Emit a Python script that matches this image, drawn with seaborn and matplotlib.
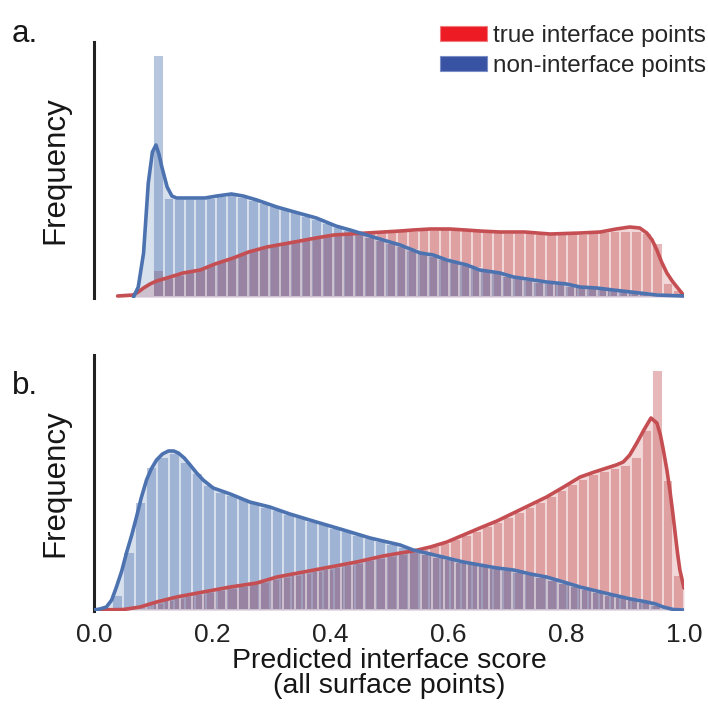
import numpy as np
import pandas as pd
import matplotlib
matplotlib.use("Agg")
import matplotlib.pyplot as plt
import seaborn as sns
from matplotlib.patches import Patch
from matplotlib.colors import to_rgba

# ---------------- data ----------------
score_ticks = [0.0, 0.2, 0.4, 0.6, 0.8, 1.0]
tick_labels = ["0.0", "0.2", "0.4", "0.6", "0.8", "1.0"]
series_names = ["true interface points", "non-interface points"]

# panel a: histogram bin ranges and bar heights (arbitrary frequency units)
a_blue_range = (0.100, 0.995)
a_blue_bars = [242, 99, 98, 98, 98, 99, 101, 102, 100, 97,
               94, 91, 88, 85, 81, 78, 74, 70, 67, 63,
               60, 57, 54, 51, 47, 44, 41, 38, 35, 32,
               29, 26, 24, 21, 19, 17, 15, 14, 13, 11,
               10, 9, 8, 7, 6, 5, 4, 3, 2, 1]
a_red_range = (0.100, 1.000)
a_red_bars = [27, 19, 22, 25, 28, 32, 36, 39, 43, 47,
              49, 51, 53, 55, 57, 59, 61, 62, 63, 63,
              64, 65, 65, 66, 66, 67, 67, 68, 67, 67,
              66, 65, 65, 64, 64, 64, 63, 63, 63, 63,
              63, 64, 65, 66, 66, 66, 64, 54, 14, 7]

# panel a: density curves
a_blue_kde_x = [0.067, 0.075, 0.084, 0.092, 0.099, 0.105, 0.110, 0.115, 0.124, 0.132,
                0.140, 0.163, 0.188, 0.208, 0.233, 0.253, 0.276, 0.310, 0.340, 0.377,
                0.410, 0.434, 0.462, 0.490, 0.519, 0.553, 0.575, 0.598, 0.632, 0.654,
                0.688, 0.711, 0.745, 0.767, 0.801, 0.824, 0.852, 0.880, 0.925, 0.954, 1.000]
a_blue_kde_y = [0, 10, 44, 114, 145, 152, 143, 130, 110, 101,
                99, 99, 99, 101, 103, 101, 97, 90, 85, 79,
                71, 67, 62, 57, 52, 44, 42, 37, 32, 27,
                24, 20, 17, 15, 13, 10, 9, 7, 4, 2, 1]
a_red_kde_x = [0.040, 0.066, 0.075, 0.084, 0.095, 0.106, 0.129, 0.151, 0.180, 0.205,
               0.236, 0.262, 0.293, 0.321, 0.349, 0.376, 0.406, 0.434, 0.462, 0.519,
               0.541, 0.570, 0.603, 0.630, 0.654, 0.688, 0.730, 0.773, 0.824, 0.858,
               0.885, 0.908, 0.925, 0.937, 0.946, 0.954, 0.962, 0.971, 0.980, 0.988, 0.999]
a_red_kde_y = [1, 2, 5, 9, 13, 16, 20, 24, 27, 33,
               39, 45, 50, 53, 56, 59, 62, 63, 64, 66,
               67, 68, 68, 67, 66, 65, 65, 63, 64, 65,
               68, 70, 69, 64, 57, 47, 35, 24, 16, 10, 2]

# panel b: histogram bin ranges and bar heights
b_blue_range = (0.030, 1.000)
b_blue_bars = [15, 58, 108, 143, 153, 157, 148, 137, 125, 118,
               115, 112, 108, 103, 100, 96, 93, 89, 86, 82,
               79, 75, 72, 69, 66, 63, 59, 56, 53, 51,
               48, 46, 44, 42, 40, 38, 36, 33, 30, 27,
               24, 21, 18, 15, 13, 11, 8, 5, 2, 1]
b_red_range = (0.100, 1.000)
b_red_bars = [7, 10, 12, 14, 16, 18, 20, 22, 24, 26,
              28, 31, 33, 35, 37, 39, 41, 43, 45, 47,
              50, 52, 54, 56, 58, 61, 64, 67, 71, 75,
              79, 84, 88, 93, 98, 103, 108, 114, 120, 126,
              131, 136, 139, 142, 145, 153, 180, 240, 130, 35]

# panel b: density curves
b_blue_kde_x = [0.000, 0.010, 0.021, 0.030, 0.038, 0.047, 0.055, 0.064, 0.072, 0.080,
                0.089, 0.097, 0.106, 0.116, 0.126, 0.135, 0.143, 0.153, 0.163, 0.174,
                0.185, 0.202, 0.231, 0.264, 0.298, 0.332, 0.377, 0.423, 0.468, 0.519,
                0.541, 0.570, 0.598, 0.626, 0.654, 0.683, 0.711, 0.740, 0.767, 0.796,
                0.824, 0.852, 0.880, 0.910, 0.937, 0.952, 0.965, 0.982, 1.000]
b_blue_kde_y = [0, 1, 3, 10, 23, 39, 57, 75, 93, 112,
                130, 141, 150, 156, 159, 159, 157, 152, 145, 137,
                130, 122, 116, 108, 103, 96, 88, 80, 72, 65,
                60, 56, 52, 48, 45, 42, 40, 36, 33, 28,
                23, 19, 15, 11, 8, 6, 3, 0.5, 0]
b_red_kde_x = [0.000, 0.050, 0.078, 0.106, 0.140, 0.185, 0.231, 0.276, 0.310, 0.355,
               0.400, 0.445, 0.490, 0.519, 0.541, 0.570, 0.598, 0.626, 0.654, 0.683,
               0.711, 0.739, 0.767, 0.796, 0.824, 0.848, 0.869, 0.885, 0.897, 0.908,
               0.920, 0.932, 0.944, 0.954, 0.960, 0.965, 0.971, 0.976, 0.981, 0.985,
               0.989, 0.993, 1.000]
b_red_kde_y = [0, 0.5, 3, 8, 13, 18, 23, 27, 33, 38,
               43, 48, 54, 57, 59, 63, 68, 75, 82, 89,
               97, 105, 113, 123, 133, 138, 142, 145, 148, 155,
               167, 180, 192, 187, 175, 160, 140, 120, 97, 77,
               57, 40, 22]

# ---------------- style ----------------
sns.set_style("white")
plt.rcParams["font.family"] = ["Liberation Sans", "DejaVu Sans"]

BLUE = "#4c72b0"
RED = "#c44e52"
LEG_RED = "#ed1c24"
LEG_BLUE = "#3953a4"
TXT = "#161616"

fig = plt.figure(figsize=(7.08, 7.25), dpi=100)
W, H = 708.0, 725.0
ax_a = fig.add_axes([94 / W, 1 - 298 / H, 590 / W, 256 / H])
ax_b = fig.add_axes([94 / W, 1 - 611 / H, 590 / W, 256 / H])


def draw_hist(ax, rng, heights, color):
    edges = [float(e) for e in np.linspace(rng[0], rng[1], len(heights) + 1)]
    centers = [0.5 * (edges[i] + edges[i + 1]) for i in range(len(heights))]
    df = pd.DataFrame({"score": centers, "freq": [float(h) for h in heights]})
    n0 = len(ax.patches)
    sns.histplot(data=df, x="score", weights="freq", bins=edges, ax=ax, color=color,
                 alpha=0.4, edgecolor="white", linewidth=1.4)
    for p in ax.patches[n0:]:
        p.set_alpha(None)
        p.set_facecolor(to_rgba(color, 0.4))
        p.set_edgecolor("white")


def draw_kde(ax, xs, ys, color):
    ax.fill_between(xs, ys, 0, color=color, alpha=0.22, lw=0, zorder=3)
    df = pd.DataFrame({"score": xs, "dens": ys})
    sns.lineplot(data=df, x="score", y="dens", ax=ax, color=color, lw=2.6, zorder=4,
                 estimator=None)


for ax, parts in [
    (ax_a, [(a_red_range, a_red_bars, a_red_kde_x, a_red_kde_y, RED),
            (a_blue_range, a_blue_bars, a_blue_kde_x, a_blue_kde_y, BLUE)]),
    (ax_b, [(b_red_range, b_red_bars, b_red_kde_x, b_red_kde_y, RED),
            (b_blue_range, b_blue_bars, b_blue_kde_x, b_blue_kde_y, BLUE)]),
]:
    for rng, bars, kx, ky, col in parts:
        draw_hist(ax, rng, bars, col)
        draw_kde(ax, kx, ky, col)
    ax.set_xlim(0, 1)
    ax.set_ylim(-1, 255)
    ax.set_yticks([])
    for s in ["top", "right", "bottom"]:
        ax.spines[s].set_visible(False)
    ax.spines["left"].set_color("#222222")
    ax.spines["left"].set_linewidth(2.2)
    ax.set_ylabel("Frequency", fontsize=22.5, labelpad=17, color=TXT)
    ax.tick_params(axis="x", length=0)

ax_a.set_xticks([])
ax_a.set_xlabel("")
ax_b.set_xticks(score_ticks)
ax_b.set_xticklabels(tick_labels, fontsize=19, color="#222222")
ax_b.tick_params(axis="x", pad=9)
ax_b.set_xlabel("Predicted interface score\n(all surface points)",
                fontsize=20.5, linespacing=0.98, labelpad=0, color=TXT)

fig.text(12 / W, 1 - 42 / H, "a.", fontsize=22.5, va="baseline", ha="left", color=TXT)
fig.text(12 / W, 1 - 394 / H, "b.", fontsize=22.5, va="baseline", ha="left", color=TXT)

handles = [Patch(facecolor=LEG_RED, edgecolor="#f07b7e", lw=0.8, label=series_names[0]),
           Patch(facecolor=LEG_BLUE, edgecolor="#7b8ec6", lw=0.8, label=series_names[1])]
fig.legend(handles=handles, loc="upper left", bbox_to_anchor=(440 / W, 1 - 25 / H),
           frameon=False, fontsize=17.5, handlelength=1.93, handleheight=0.62,
           handletextpad=0.25, labelspacing=0.33, borderpad=0, borderaxespad=0)

fig.savefig("out.png", dpi=100)
